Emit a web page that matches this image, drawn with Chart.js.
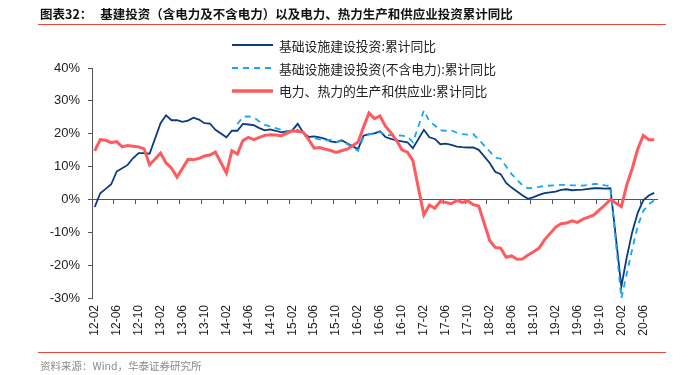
<!DOCTYPE html>
<html>
<head>
<meta charset="utf-8">
<script src="https://cdn.jsdelivr.net/npm/chart.js@4.4.1/dist/chart.umd.min.js"></script>
<style>
  html, body { margin: 0; padding: 0; background: #fff; }
  #wrap { position: relative; width: 693px; height: 375px; overflow: hidden;
          font-family: "Noto Sans CJK SC", "Noto Sans", sans-serif; }
  canvas { position: absolute; left: 0; top: 0; }
  #title { position: absolute; left: 40px; top: 5px; font-size: 12.5px; font-weight: bold;
           color: #111; white-space: nowrap; line-height: 18px; }
  .rule { position: absolute; left: 38px; width: 628px; height: 1px; background: #e8473a; }
  #src { position: absolute; left: 40px; top: 358px; font-size: 10.5px; color: #8a8a8a; white-space: nowrap; }
  #legend { position: absolute; left: 232px; top: 34px; font-size: 12.8px; color: #222; }
  .lg { display: flex; align-items: center; height: 22.7px; white-space: nowrap; }
  .lg svg { margin-right: 6px; }
</style>
</head>
<body>
<div id="wrap">
  <canvas id="c" width="693" height="375"></canvas>
  <div id="title">图表32：<span style="margin-left:8px">基建投资（含电力及不含电力）以及电力、热力生产和供应业投资累计同比</span></div>
  <div class="rule" style="top:24px"></div>
  <div id="legend"></div>
  <div class="rule" style="top:352px"></div>
  <div id="src">资料来源：Wind，华泰证券研究所</div>
</div>
<script>
/* month categories, Feb 2012 .. Aug 2020 (January has no release -> null) */
const months = [
  '12-02','12-03','12-04','12-05','12-06','12-07','12-08','12-09','12-10','12-11','12-12',
  '13-01','13-02','13-03','13-04','13-05','13-06','13-07','13-08','13-09','13-10','13-11','13-12',
  '14-01','14-02','14-03','14-04','14-05','14-06','14-07','14-08','14-09','14-10','14-11','14-12',
  '15-01','15-02','15-03','15-04','15-05','15-06','15-07','15-08','15-09','15-10','15-11','15-12',
  '16-01','16-02','16-03','16-04','16-05','16-06','16-07','16-08','16-09','16-10','16-11','16-12',
  '17-01','17-02','17-03','17-04','17-05','17-06','17-07','17-08','17-09','17-10','17-11','17-12',
  '18-01','18-02','18-03','18-04','18-05','18-06','18-07','18-08','18-09','18-10','18-11','18-12',
  '19-01','19-02','19-03','19-04','19-05','19-06','19-07','19-08','19-09','19-10','19-11','19-12',
  '20-01','20-02','20-03','20-04','20-05','20-06','20-07','20-08'
];

/* 基础设施建设投资:累计同比 (%) */
const infra = [
  -2.3, 1.9, 3.2, 4.6, 8.5, 9.5, 10.5, 12.6, 14.1, 14.1, 13.9,
  null, 23.2, 25.6, 24.1, 24.1, 23.6, 24.0, 24.9, 24.3, 23.2, 23.1, 21.2,
  null, 18.9, 20.9, 20.9, 23.0, 22.8, 22.6, 21.7, 21.0, 21.3, 20.9, 20.4,
  null, 21.0, 23.0, 20.4, 19.0, 19.2, 18.9, 18.4, 17.7, 17.4, 18.0, 17.1,
  null, 15.3, 19.4, 19.9, 20.1, 20.7, 19.0, 18.4, 18.0, 17.7, 17.4, 15.6,
  null, 21.2, 18.9, 18.4, 16.8, 17.0, 16.6, 16.1, 15.9, 15.8, 15.8, 15.1,
  null, 11.1, 8.4, 7.7, 5.0, 3.6, 2.4, 1.2, 0.2, 0.7, 1.4, 1.9,
  null, 2.4, 2.9, 3.1, 2.8, 2.9, 3.0, 3.2, 3.4, 3.4, 3.3, 3.4,
  null, -26.5, -17.5, -9.8, -4.0, -0.3, 1.2, 2.0
];

/* 基础设施建设投资(不含电力):累计同比 (%) */
const infraExPower = [
  null, null, null, null, null, null, null, null, null, null, null,
  null, null, null, null, null, null, null, null, null, null, null, null,
  null, null, null, 22.9, 25.1, 25.3, 25.0, 23.7, 22.7, 22.2, 21.7, 21.2,
  null, 20.6, 21.2, 19.8, 18.5, 18.6, 18.3, 17.9, 18.2, 17.4, 17.8, 16.9,
  null, 14.8, 19.0, 19.8, 20.2, 20.5, 19.5, 19.6, 19.5, 19.4, 19.2, 17.4,
  null, 27.1, 23.8, 22.5, 21.0, 20.9, 21.0, 20.3, 19.9, 19.7, 19.9, 18.2,
  null, 14.6, 12.8, 12.4, 10.0, 7.7, 6.0, 4.2, 3.4, 3.6, 3.8, 4.1,
  null, 4.3, 4.4, 4.4, 4.3, 4.3, 4.2, 4.4, 4.7, 4.7, 4.3, 4.1,
  null, -30.1, -22.5, -15.0, -8.0, -3.5, -1.5, -0.3
];

/* 电力、热力的生产和供应业:累计同比 (%) */
const power = [
  14.8, 18.2, 18.0, 17.3, 17.6, 16.0, 16.4, 16.2, 16.0, 15.4, 10.5,
  null, 14.1, 11.1, 9.5, 6.8, 9.5, 12.2, 12.1, 12.5, 13.2, 13.5, 14.4,
  null, 8.0, 14.8, 13.8, 17.9, 18.9, 18.2, 18.9, 19.5, 19.7, 19.6, 19.4,
  null, 20.9, 20.7, 20.5, 18.2, 15.6, 15.8, 15.3, 14.9, 14.3, 14.8, 15.3,
  null, 17.5, 22.0, 26.3, 24.6, 25.4, 22.3, 20.3, 18.0, 15.1, 14.4, 11.8,
  null, -4.7, -1.7, -2.7, -0.6, -0.9, -1.3, -0.3, -0.9, -0.4, -1.6, -2.0,
  null, -12.5, -14.6, -14.8, -17.6, -17.2, -18.2, -18.1, -16.9, -15.9, -14.8, -12.3,
  null, -8.5, -7.4, -7.2, -6.5, -7.0, -6.0, -5.4, -4.7, -3.2, -1.7, 0.0,
  null, -2.2, 4.5, 9.5, 15.4, 19.5, 18.2, 18.2
];

const yTicks = [-30, -20, -10, 0, 10, 20, 30, 40];
const labelEvery = 4;   // one date label every 4 months

const SERIES = [
  { name: '基础设施建设投资:累计同比', data: infra, color: '#0b3a85', width: 1.8, dash: [], order: 3 },
  { name: '基础设施建设投资(不含电力):累计同比', data: infraExPower, color: '#17a6ef', width: 1.8, dash: [6, 5], order: 2 },
  { name: '电力、热力的生产和供应业:累计同比', data: power, color: '#ff5b5e', width: 3, dash: [], order: 1 },
];

// legend (html)
document.getElementById('legend').innerHTML = SERIES.map(s =>
  `<div class="lg"><svg width="41" height="6"><line x1="0" y1="3" x2="41" y2="3" stroke="${s.color}"
     stroke-width="${s.width + 0.4}" stroke-dasharray="${s.dash.join(' ')}"/></svg>${s.name}</div>`).join('');

const N = months.length;
const AX = '#555';
const lblFont = { family: '"Liberation Sans", Arial, sans-serif', size: 12 };

new Chart(document.getElementById('c'), {
  type: 'line',
  data: {
    datasets: SERIES.map(s => ({
      label: s.name,
      data: s.data.map((v, i) => ({ x: i, y: v })),
      borderColor: s.color, backgroundColor: s.color, borderWidth: s.width,
      borderDash: s.dash, pointRadius: 0, tension: 0, spanGaps: true, order: s.order,
      xAxisID: 'x', yAxisID: 'y',
    })),
  },
  options: {
    responsive: false, animation: false, devicePixelRatio: 1,
    layout: { padding: { left: 0, top: 68, right: 36, bottom: 0 } },
    plugins: { legend: { display: false }, tooltip: { enabled: false } },
    scales: {
      // zero line with tick marks between months
      x: {
        type: 'linear', position: { y: 0 }, min: -0.5, max: N - 0.5,
        afterBuildTicks: s => { s.ticks = []; for (let v = -0.5; v < N - 1; v += labelEvery) s.ticks.push({ value: v }); },
        afterFit: s => { s.height = 0; },
        ticks: { display: false },
        grid: { drawOnChartArea: false, drawTicks: true, tickLength: 4, color: AX },
        border: { color: AX },
      },
      // date labels at the bottom
      x2: {
        type: 'linear', position: 'bottom', min: -0.5, max: N - 0.5,
        afterBuildTicks: s => { s.ticks = []; for (let v = 0; v < N - 2; v += labelEvery) s.ticks.push({ value: v }); },
        afterFit: s => { s.height = 77; },
        ticks: { callback: v => months[v], minRotation: 90, maxRotation: 90, autoSkip: false,
                 padding: 7, font: lblFont, color: '#222' },
        grid: { display: false, drawTicks: false },
        border: { display: false },
      },
      y: {
        min: -30, max: 40,
        afterBuildTicks: s => { s.ticks = yTicks.map(v => ({ value: v })); },
        afterFit: s => { s.width = 92; },
        ticks: { callback: v => v + '%', padding: 8, font: { ...lblFont, size: 13 }, color: '#222' },
        grid: { drawOnChartArea: false, drawTicks: true, tickLength: 4, color: AX },
        border: { color: AX },
      },
    },
  },
});
</script>
</body>
</html>
